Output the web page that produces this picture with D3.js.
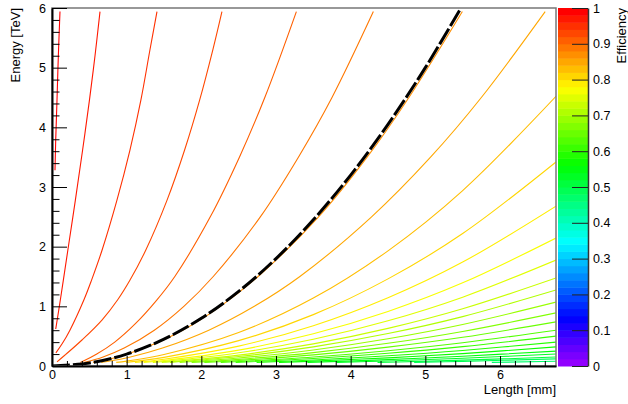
<!DOCTYPE html>
<html>
<head>
<meta charset="utf-8">
<script src="https://cdn.jsdelivr.net/npm/d3@7"></script>
<style>
    body { margin: 0; background: #fff; }
    svg text { font-family: "Liberation Sans", Arial, sans-serif; }
</style>
</head>
<body>
<div id="chart"></div>
<script>
// tick labels
const xTicks = [0, 1, 2, 3, 4, 5, 6];
const yTicks = [0, 1, 2, 3, 4, 5, 6];
const zTicks = [0, 0.1, 0.2, 0.3, 0.4, 0.5, 0.6, 0.7, 0.8, 0.9, 1];

// contour lines: [length mm, energy TeV]
const c98 = [[0.107,5.94],[0.085,5.2],[0.067,4.46],[0.05,3.8],[0.04,3.28]];
const c96 = [[0.643,5.94],[0.576,5.2],[0.502,4.46],[0.41,3.62],[0.313,2.78],[0.212,1.94],[0.152,1.44],[0.112,1.11],[0.073,0.8],[0.05,0.62]];
const c94 = [[1.406,5.94],[1.312,5.3],[1.191,4.46],[1.044,3.62],[0.87,2.78],[0.67,1.94],[0.53,1.44],[0.428,1.11],[0.24,0.6],[0.14,0.38],[0.052,0.22]];
const c92 = [[2.276,5.94],[2.154,5.3],[1.978,4.46],[1.776,3.62],[1.541,2.78],[1.255,1.94],[1.045,1.44],[0.88,1.11],[0.669,0.77],[0.405,0.44],[0.171,0.18],[0.067,0.07]];
const c90 = [[3.273,5.94],[2.85,4.5],[2.51,3.5],[2.12,2.5],[1.645,1.5],[1.4,1.1],[1.11,0.7],[0.84,0.4],[0.6,0.2],[0.4,0.07],[0.38,0.06]];
const c88 = [[4.304,5.94],[3.75,4.5],[3.3,3.5],[2.79,2.5],[2.16,1.5],[1.766,1.0],[1.37,0.6],[0.967,0.3],[0.684,0.15],[0.467,0.07],[0.43,0.06]];
const c86 = [[5.496,5.94],[4.78,4.5],[4.22,3.5],[3.57,2.5],[2.76,1.5],[2.255,1.0],[1.75,0.6],[1.235,0.3],[0.873,0.15],[0.597,0.07],[0.55,0.06]];
const c84 = [[6.605,5.94],[5.75,4.5],[5.07,3.5],[4.28,2.5],[3.32,1.5],[2.71,1.0],[2.1,0.6],[1.48,0.3],[1.05,0.15],[0.72,0.07],[0.66,0.06]];
const c82 = [[6.75,4.52],[5.5,2.94],[4.5,1.93],[3.5,1.138],[2.5,0.561],[1.5,0.192],[1.0,0.082],[0.86,0.06]];
const c80 = [[6.75,3.42],[5.5,2.22],[4.5,1.46],[3.5,0.861],[2.5,0.425],[1.5,0.145],[0.99,0.06]];
const c78 = [[6.75,2.68],[5.5,1.742],[4.5,1.144],[3.5,0.675],[2.5,0.333],[1.5,0.114],[1.11,0.06]];
const c76 = [[6.75,2.145],[5.5,1.394],[4.5,0.915],[3.5,0.54],[2.5,0.266],[1.5,0.091],[1.23,0.06]];
const c74 = [[6.75,1.776],[5.5,1.154],[4.5,0.758],[3.5,0.447],[2.5,0.221],[1.5,0.076],[1.35,0.06]];
const c72 = [[6.75,1.475],[5.5,0.959],[4.5,0.63],[3.5,0.371],[2.5,0.183],[1.5,0.063],[1.47,0.06]];
const c70 = [[6.75,1.274],[5.5,0.828],[4.5,0.544],[3.5,0.321],[2.5,0.158],[1.58,0.06]];
const c68 = [[6.75,1.07],[5.5,0.696],[4.5,0.457],[3.5,0.269],[2.5,0.133],[1.71,0.06]];
const c66 = [[6.75,0.89],[5.5,0.579],[4.5,0.38],[3.5,0.224],[2.5,0.111],[1.87,0.06]];
const c64 = [[6.75,0.74],[5.5,0.481],[4.5,0.316],[3.5,0.186],[2.5,0.092],[2.04,0.06]];
const c62 = [[6.75,0.6],[5.5,0.39],[4.5,0.256],[3.5,0.151],[2.5,0.075],[2.26,0.06]];
const c60 = [[6.75,0.5],[5.5,0.325],[4.5,0.213],[3.5,0.126],[2.46,0.06]];
const c58 = [[6.75,0.4],[5.5,0.26],[4.5,0.171],[3.5,0.101],[2.74,0.06]];
const c56 = [[6.75,0.32],[5.5,0.208],[4.5,0.137],[3.5,0.081],[3.04,0.06]];
const c54 = [[6.75,0.25],[5.5,0.163],[4.5,0.107],[3.42,0.06]];
const c52 = [[6.75,0.2],[5.5,0.13],[4.5,0.085],[3.81,0.06]];
const c50 = [[6.75,0.15],[5.5,0.098],[4.5,0.064],[4.36,0.06]];
const c48 = [[6.75,0.12],[5.5,0.078],[4.85,0.06]];
const c46 = [[6.75,0.08],[5.89,0.06]];

const levels = [0.98,0.96,0.94,0.92,0.90,0.88,0.86,0.84,0.82,0.80,0.78,0.76,0.74,0.72,0.70,
                0.68,0.66,0.64,0.62,0.60,0.58,0.56,0.54,0.52,0.50,0.48,0.46];
const contours = [c98,c96,c94,c92,c90,c88,c86,c84,c82,c80,c78,c76,c74,c72,c70,
                  c68,c66,c64,c62,c60,c58,c56,c54,c52,c50,c48,c46];

// black dashed reference curve
const refCurve = [[0,0],[0.5,0.05],[1,0.2],[1.5,0.45],[2,0.8],[2.5,1.25],[3,1.8],[3.5,2.45],[4,3.2],[4.5,4.05],[5,5.0],[5.477,6.0]];

const W = 628, H = 404;
const frame = {left: 52, right: 556, top: 8, bottom: 366};
const nColors = 50;

// ROOT "pretty" palette: hue 280 -> 0
function paletteColor(i) {
    const hue = i < nColors - 1 ? 280 - (i + 1) * 280 / nColors : 0;
    return d3.hsl(hue, 1, 0.5).formatHex();
}
const levelColor = v => paletteColor(Math.min(nColors - 1, Math.round(v * nColors)));

const svg = d3.select("#chart").append("svg")
    .attr("width", W)
    .attr("height", H);

svg.append("rect").attr("width", W).attr("height", H).attr("fill", "#fff");

const x = d3.scaleLinear().domain([0, 6.75]).range([frame.left, frame.right]);
const y = d3.scaleLinear().domain([0, 6]).range([frame.bottom, frame.top]);
const z = d3.scaleLinear().domain([0, 1]).range([frame.bottom, frame.top]);

svg.append("clipPath").attr("id", "clip")
    .append("rect")
    .attr("x", frame.left).attr("y", frame.top)
    .attr("width", frame.right - frame.left)
    .attr("height", frame.bottom - frame.top);

const line = d3.line()
    .x(d => x(d[0]))
    .y(d => y(d[1]))
    .curve(d3.curveCatmullRom.alpha(0.5));

const plot = svg.append("g").attr("clip-path", "url(#clip)");

plot.selectAll("path.contour")
    .data(contours)
    .enter()
    .append("path")
    .attr("class", "contour")
    .attr("d", d => line(d))
    .attr("fill", "none")
    .attr("stroke", (d, i) => levelColor(levels[i]))
    .attr("stroke-width", 1.1);

plot.append("path")
    .attr("d", line(refCurve))
    .attr("fill", "none")
    .attr("stroke", "#000")
    .attr("stroke-width", 3)
    .attr("stroke-dasharray", "18,3");

// frame
svg.append("rect")
    .attr("x", frame.left).attr("y", frame.top)
    .attr("width", frame.right - frame.left)
    .attr("height", frame.bottom - frame.top)
    .attr("fill", "none")
    .attr("stroke", "#777")
    .attr("stroke-width", 1.5);

const fontSize = "12.5px";
const titleSize = "13px";

// x axis
const minorX = d3.range(0, 6.75, 0.2).filter(v => Math.abs(v - Math.round(v)) > 1e-6);
svg.append("g")
    .attr("transform", `translate(0,${frame.bottom})`)
    .call(d3.axisBottom(x).tickValues(minorX).tickSize(-5).tickSizeOuter(0).tickFormat(""))
    .call(g => g.select(".domain").remove());
const xAxis = svg.append("g")
    .attr("transform", `translate(0,${frame.bottom})`)
    .call(d3.axisBottom(x).tickValues(xTicks).tickSize(-10).tickSizeOuter(0).tickPadding(4).tickFormat(d3.format("d")));
xAxis.select(".domain").attr("stroke-width", 2);
xAxis.selectAll("text").style("font-size", fontSize).attr("fill", "#000");

// y axis
const minorY = d3.range(0, 6.01, 0.2).filter(v => Math.abs(v - Math.round(v)) > 1e-6);
svg.append("g")
    .attr("transform", `translate(${frame.left},0)`)
    .call(d3.axisLeft(y).tickValues(minorY).tickSize(-7.5).tickSizeOuter(0).tickFormat(""))
    .call(g => g.select(".domain").remove());
const yAxis = svg.append("g")
    .attr("transform", `translate(${frame.left},0)`)
    .call(d3.axisLeft(y).tickValues(yTicks).tickSize(-15).tickSizeOuter(0).tickPadding(6).tickFormat(d3.format("d")));
yAxis.select(".domain").attr("stroke-width", 2);
yAxis.selectAll("text").style("font-size", fontSize).attr("fill", "#000");

svg.append("text")
    .attr("x", frame.right)
    .attr("y", 394)
    .attr("text-anchor", "end")
    .style("font-size", titleSize)
    .text("Length [mm]");

svg.append("text")
    .attr("transform", `translate(20,${frame.top}) rotate(-90)`)
    .attr("text-anchor", "end")
    .style("font-size", titleSize)
    .text("Energy [TeV]");

// colour bar
const bar = {left: 558, right: 588};
svg.append("g").selectAll("rect")
    .data(d3.range(nColors))
    .enter()
    .append("rect")
    .attr("x", bar.left)
    .attr("width", bar.right - bar.left)
    .attr("y", i => z((i + 1) / nColors))
    .attr("height", i => z(i / nColors) - z((i + 1) / nColors) + 0.5)
    .attr("fill", i => paletteColor(i));

const zAxis = svg.append("g")
    .attr("transform", `translate(${bar.right},0)`)
    .call(d3.axisRight(z).tickValues(zTicks).tickSize(-16).tickSizeOuter(0).tickPadding(5).tickFormat(d3.format("~g")));
zAxis.select(".domain").attr("stroke", "#333").attr("stroke-width", 1.5);
zAxis.selectAll("line").attr("stroke", "#222");
zAxis.selectAll("text").style("font-size", fontSize).attr("fill", "#000");

svg.append("text")
    .attr("transform", `translate(626,${frame.top}) rotate(-90)`)
    .attr("text-anchor", "end")
    .style("font-size", titleSize)
    .text("Efficiency");
</script>
</body>
</html>
